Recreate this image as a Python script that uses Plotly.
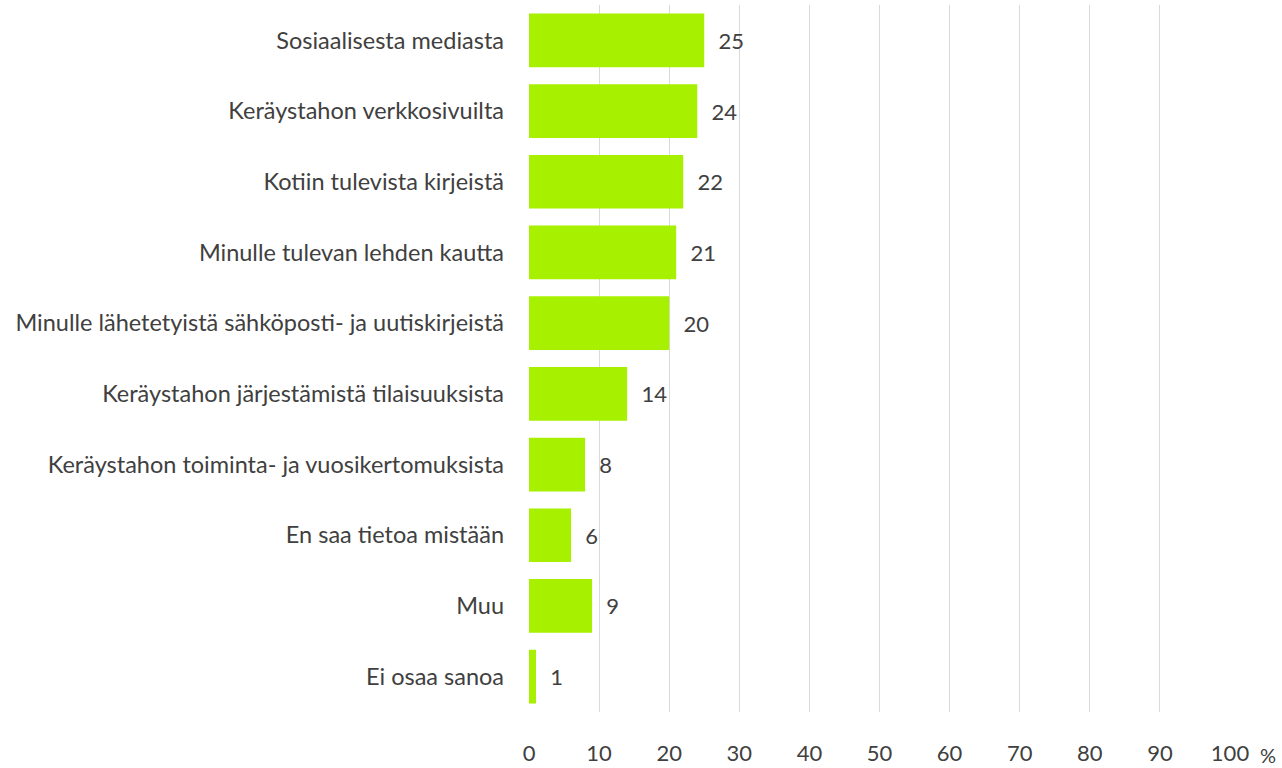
import plotly.graph_objects as go

categories = [
    "Sosiaalisesta mediasta",
    "Keräystahon verkkosivuilta",
    "Kotiin tulevista kirjeistä",
    "Minulle tulevan lehden kautta",
    "Minulle lähetetyistä sähköposti- ja uutiskirjeistä",
    "Keräystahon järjestämistä tilaisuuksista",
    "Keräystahon toiminta- ja vuosikertomuksista",
    "En saa tietoa mistään",
    "Muu",
    "Ei osaa sanoa",
]
values = [25, 24, 22, 21, 20, 14, 8, 6, 9, 1]
tick_vals = [0, 10, 20, 30, 40, 50, 60, 70, 80, 90, 100]

FONT = "Lato"
TXT = "#404040"

fig = go.Figure(go.Bar(
    y=categories,
    x=values,
    orientation="h",
    marker=dict(color="#A6F000", line=dict(width=0)),
    text=[f"  {v}" for v in values],
    textposition="outside",
    textfont=dict(family=FONT, size=22, color=TXT),
    cliponaxis=False,
))

fig.update_layout(
    width=1282, height=768,
    margin=dict(l=529, r=52, t=5, b=56, autoexpand=False),
    plot_bgcolor="white", paper_bgcolor="white",
    bargap=0.24,
    showlegend=False,
    font=dict(family=FONT, size=22, color=TXT),
    xaxis=dict(
        range=[0, 100], tickvals=tick_vals, showgrid=True, gridcolor="#D9D9D9",
        gridwidth=1, zeroline=False, showline=False, ticks="", automargin=False,
        tickfont=dict(family=FONT, size=22, color=TXT), ticklabelstandoff=26,
    ),
    yaxis=dict(
        autorange="reversed", showgrid=False, zeroline=False, showline=False,
        ticks="", automargin=False,
        tickfont=dict(family=FONT, size=23.5, color=TXT), ticklabelstandoff=24,
    ),
    annotations=[dict(
        text="%", xref="paper", yref="paper", x=1, y=0, xanchor="center", yanchor="middle",
        xshift=38, yshift=-43, borderpad=0,
        showarrow=False, font=dict(family=FONT, size=20, color=TXT),
    )],
)

fig.write_html(
    "out.html",
    config={"displayModeBar": False},
    post_script="document.body.style.margin='0';document.body.style.overflow='hidden';",
)
